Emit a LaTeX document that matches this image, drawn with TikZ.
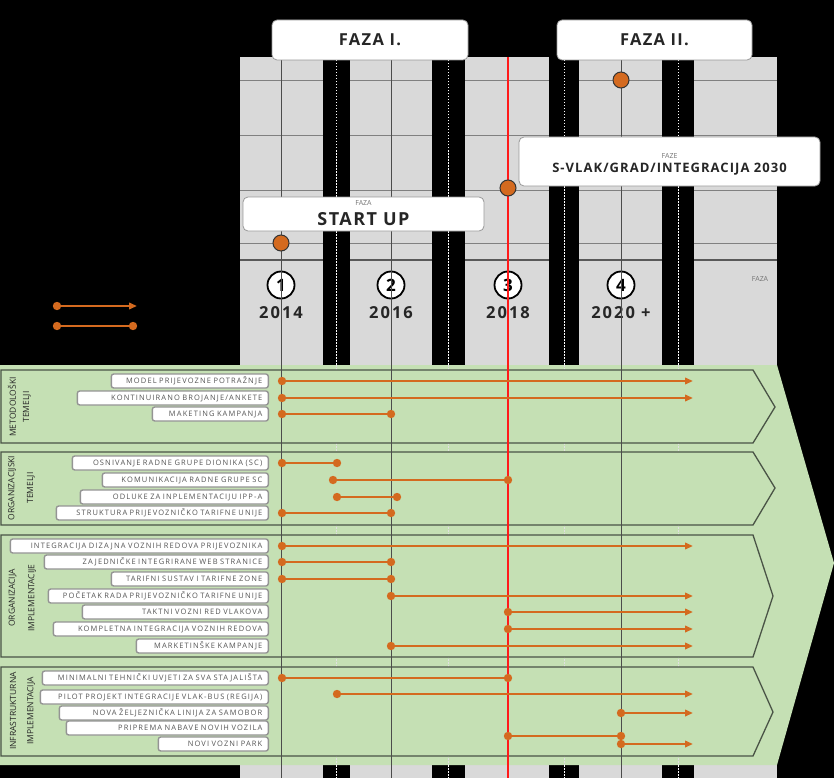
\documentclass[tikz,border=0pt]{standalone}
\usepackage{fontspec}
\setmainfont{Open Sans}
\newfontfamily\itemfont[LetterSpace=15,WordSpace=1.8]{Open Sans}
\newfontfamily\widebold[LetterSpace=8]{Open Sans}
\newfontfamily\yearbold[LetterSpace=12]{Open Sans}
\usetikzlibrary{arrows.meta}
\definecolor{gpanel}{HTML}{D9D9D9}
\definecolor{gline}{HTML}{808080}
\definecolor{grn}{HTML}{C5E0B4}
\definecolor{grpline}{HTML}{4A5446}
\definecolor{org}{RGB}{212,106,31}
\definecolor{txt}{HTML}{262626}
\definecolor{itxt}{HTML}{555555}
\definecolor{redl}{HTML}{FF1A1A}
\newcommand\tsk[8]{%
  \pgfmathsetmacro\tw{269-#2-12}%
  \node[itembox, text width=\tw pt] (#1) at (269,#3) {#4};%
  \coordinate (#1s) at (#6,#5);%
  \coordinate (#1e) at (#7,#5);%
  \if a#8\relax
    \draw[taskline, arrowtip] (#1s) -- (#1e);%
  \else
    \draw[taskline] (#1s) -- (#1e);%
    \fill[org] (#1e) circle (4.2);%
  \fi
  \fill[org] (#1s) circle (4.2);%
}
\begin{document}
\begin{tikzpicture}[x=1pt,y=-1pt,
  itembox/.style={draw=black!42, fill=white, rounded corners=2.5pt, line width=1.4pt, minimum height=14pt, inner ysep=0pt, inner xsep=6pt, font=\itemfont\fontsize{7.5}{7.5}\selectfont, text=itxt, align=right, anchor=east},
  taskline/.style={draw=org, line width=2pt},
  arrowtip/.style={-{Triangle[length=8pt,width=6.5pt]}},
  grp/.style={draw=grpline, line width=1.3pt, fill=grn},
  grplabel/.style={rotate=90, font=\fontsize{8.5}{9}\selectfont, text=black!85, inner sep=0pt},
  phasebox/.style={draw=black!40, fill=white, rounded corners=5pt, line width=0.8pt},
  yearnum/.style={circle, draw=black, line width=1.8pt, fill=white, minimum size=27pt, inner sep=0pt, font=\bfseries\fontsize{17}{17}\selectfont},
  yeartxt/.style={font=\yearbold\bfseries\fontsize{16.5}{17}\selectfont, text=txt},
  smallfaza/.style={font=\fontsize{7}{7}\selectfont, text=black!55},
  mile/.style={circle, draw=black!80, fill=org, line width=1pt, minimum size=16pt, inner sep=0pt},
  yline/.style={draw=black!70, line width=0.7pt},
  bardots/.style={draw=white, line width=0.6pt, dash pattern=on 1.5pt off 1.5pt},
]
\useasboundingbox (0,0) rectangle (834,778);
\fill[black] (0,0) rectangle (834,778);
% grey time panel
\fill[gpanel] (240,57) rectangle (777,778);
\foreach \yy in {80,135,190,243} \draw[gline, line width=0.8pt] (240,\yy) -- (777,\yy);
\draw[black!65, line width=2.5pt] (240,260) -- (777,260);
% black bars
\foreach \xa/\xb in {323/350, 432/465, 549/579, 662/694} {
  \fill[black] (\xa,57) rectangle (\xb,778);
  \draw[bardots] ({(\xa+\xb)/2},57) -- ({(\xa+\xb)/2},778);
}
% green arrow
\fill[grn] (0,365) -- (777,365) -- (834,563) -- (777,765) -- (0,765) -- cycle;
\foreach \xx in {336.5,448.5,564,678} \draw[black!12, line width=0.6pt, dash pattern=on 2pt off 1pt] (\xx,365) -- (\xx,765);
% groups
\draw[grp] (1,370) -- (753,370) -- (775,407) -- (753,443) -- (1,443) -- cycle;
\draw[grp] (1,452) -- (753,452) -- (775,488) -- (753,525) -- (1,525) -- cycle;
\draw[grp] (1,535) -- (753,535) -- (773,596) -- (753,657) -- (1,657) -- cycle;
\draw[grp] (1,667) -- (753,667) -- (773,712) -- (753,756) -- (1,756) -- cycle;
% phase numbers and years
\node[yearnum] (n1) at (281,285) {1};
\node[yearnum] (n2) at (391,285) {2};
\node[yearnum] (n3) at (508,285) {3};
\node[yearnum] (n4) at (621,285) {4};
\node[yeartxt] (y1) at (281,313) {2014};
\node[yeartxt] (y2) at (391,313) {2016};
\node[yeartxt] (y3) at (508,313) {2018};
\node[yeartxt] (y4) at (621,313) {2020 +};
\node[smallfaza] (fz) at (760,279) {FAZA};
% year lines
\foreach \xx in {281,391,621} \draw[yline] (\xx,57) -- (\xx,778);
\draw[redl, line width=2pt] (508,57) -- (508,778);
% tasks
\tsk{a1}{112}{381}{MODEL PRIJEVOZNE POTRAŽNJE}{381}{282}{693}{a}
\tsk{a2}{78}{398}{KONTINUIRANO BROJANJE/ANKETE}{398}{282}{693}{a}
\tsk{a3}{153}{414}{MAKETING KAMPANJA}{414}{282}{391}{d}
\tsk{b1}{73}{463}{OSNIVANJE RADNE GRUPE DIONIKA (SC)}{463}{282}{337}{d}
\tsk{b2}{103}{480}{KOMUNIKACIJA RADNE GRUPE SC}{480}{333}{508}{d}
\tsk{b3}{81}{497}{ODLUKE ZA INPLEMENTACIJU IPP-A}{497}{337}{397}{d}
\tsk{b4}{57}{513}{STRUKTURA PRIJEVOZNIČKO TARIFNE UNIJE}{513}{282}{391}{d}
\tsk{c1}{11}{546}{INTEGRACIJA DIZAJNA VOZNIH REDOVA PRIJEVOZNIKA}{546}{282}{693}{a}
\tsk{c2}{45}{562}{ZAJEDNIČKE INTEGRIRANE WEB STRANICE}{562}{282}{391}{d}
\tsk{c3}{112}{579}{TARIFNI SUSTAV I TARIFNE ZONE}{579}{282}{391}{d}
\tsk{c4}{49}{596}{POČETAK RADA PRIJEVOZNIČKO TARIFNE UNIJE}{596}{391}{693}{a}
\tsk{c5}{83}{612}{TAKTNI VOZNI RED VLAKOVA}{612}{508}{693}{a}
\tsk{c6}{54}{629}{KOMPLETNA INTEGRACIJA VOZNIH REDOVA}{629}{508}{693}{a}
\tsk{c7}{137}{646}{MARKETINŠKE KAMPANJE}{646}{391}{693}{a}
\tsk{d1}{43}{678}{MINIMALNI TEHNIČKI UVJETI ZA SVA STAJALIŠTA}{678}{282}{508}{d}
\tsk{d2}{41}{697}{PILOT PROJEKT INTEGRACIJE VLAK-BUS (REGIJA)}{694}{337}{693}{a}
\tsk{d3}{60}{713}{NOVA ŽELJEZNIČKA LINIJA ZA SAMOBOR}{713}{621}{693}{a}
\tsk{d4}{67}{728}{PRIPREMA NABAVE NOVIH VOZILA}{736}{508}{621}{d}
\tsk{d5}{159}{744}{NOVI VOZNI PARK}{744}{621}{693}{a}
% group labels
\node[grplabel] (g1a) at (12,407) {METODOLOŠKI};
\node[grplabel] (g1b) at (27,407) {TEMELJI};
\node[grplabel] (g2a) at (12,488) {ORGANIZACIJSKI};
\node[grplabel] (g2b) at (31,488) {TEMELJI};
\node[grplabel] (g3a) at (12.5,598) {ORGANIZACIJA};
\node[grplabel] (g3b) at (32,598) {IMPLEMENTACIJE};
\node[grplabel] (g4a) at (13,711) {INFRASTRUKTURNA};
\node[grplabel] (g4b) at (31,711) {IMPLEMENTACIJA};
% legend
\coordinate (l1s) at (57,306); \coordinate (l1e) at (137,306);
\draw[taskline, arrowtip] (l1s) -- (l1e); \fill[org] (l1s) circle (4.2);
\coordinate (l2s) at (57,326); \coordinate (l2e) at (133,326);
\draw[taskline] (l2s) -- (l2e); \fill[org] (l2s) circle (4.2); \fill[org] (l2e) circle (4.2);
% phase boxes
\node[phasebox, minimum width=196pt, minimum height=40pt, font=\widebold\bfseries\fontsize{16.5}{17}\selectfont, text=txt] (f1) at (370,40) {FAZA I.};
\node[phasebox, minimum width=195pt, minimum height=40pt, font=\widebold\bfseries\fontsize{16.5}{17}\selectfont, text=txt] (f2) at (654.5,40) {FAZA II.};
\node[phasebox, minimum width=241pt, minimum height=34pt] (su) at (363.5,214) {};
\node[smallfaza] (suf) at (363.5,203) {FAZA};
\node[font=\widebold\bfseries\fontsize{18}{18}\selectfont, text=txt] (sut) at (363.5,219.5) {START UP};
\node[phasebox, minimum width=301pt, minimum height=49pt] (sv) at (669.5,161.5) {};
\node[smallfaza] (svf) at (669.5,156) {FAZE};
\node[font=\widebold\bfseries\fontsize{13}{13}\selectfont, text=txt] (svt) at (669.5,169.5) {S-VLAK/GRAD/INTEGRACIJA 2030};
% milestone dots
\node[mile] (m1) at (281,243) {};
\node[mile] (m2) at (508,188) {};
\node[mile] (m3) at (621,80) {};
\end{tikzpicture}
\end{document}
